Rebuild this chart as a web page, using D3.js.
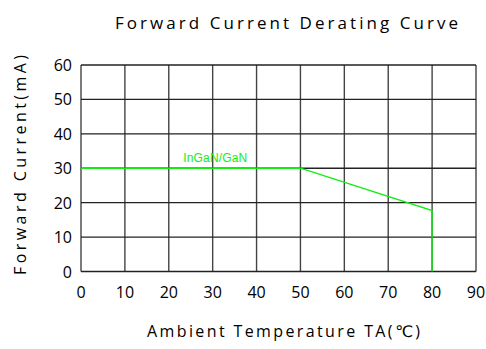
<!DOCTYPE html>
<meta charset="utf-8">
<style>
body { margin: 0; background: #fff; }
svg { display: block; }
.cad { font-family: "Open Sans", "DejaVu Sans", sans-serif; font-weight: 400; fill: #000; }
</style>
<body>
<script src="https://d3js.org/d3.v7.min.js"></script>
<script>

// chart data
var xTicks = [0, 10, 20, 30, 40, 50, 60, 70, 80, 90];
var yTicks = [0, 10, 20, 30, 40, 50, 60];
var tempC = [0, 50, 80, 80];
var currentMA = [30, 30, 17.7, 0];
var seriesName = "InGaN/GaN";

var width = 486, height = 349;
var plot = {left: 81, right: 476, top: 65, bottom: 271.5};

var svg = d3.select("body").append("svg")
  .attr("width", width)
  .attr("height", height);

var x = d3.scaleLinear().domain([0, 90]).range([plot.left, plot.right]);
var y = d3.scaleLinear().domain([0, 60]).range([plot.bottom, plot.top]);

// grid
svg.append("g").selectAll("line")
  .data(xTicks)
  .enter().append("line")
    .attr("x1", function(d) { return x(d); })
    .attr("x2", function(d) { return x(d); })
    .attr("y1", y(0))
    .attr("y2", y(60))
    .attr("stroke", "#444")
    .attr("stroke-width", 1.4);

svg.append("g").selectAll("line")
  .data(yTicks)
  .enter().append("line")
    .attr("x1", x(0))
    .attr("x2", x(90))
    .attr("y1", function(d) { return y(d); })
    .attr("y2", function(d) { return y(d); })
    .attr("stroke", "#222")
    .attr("stroke-width", 1.4);

// tick labels
svg.append("g").selectAll("text")
  .data(xTicks)
  .enter().append("text")
    .attr("class", "cad")
    .attr("x", function(d) { return x(d); })
    .attr("y", 298)
    .attr("text-anchor", "middle")
    .style("font-size", "16px")
    .text(function(d) { return d; });

svg.append("g").selectAll("text")
  .data(yTicks)
  .enter().append("text")
    .attr("class", "cad")
    .attr("x", 72)
    .attr("y", function(d) { return y(d) + 6; })
    .attr("text-anchor", "end")
    .style("font-size", "16px")
    .text(function(d) { return d; });

// derating curve
var line = d3.line()
  .x(function(d, i) { return x(tempC[i]); })
  .y(function(d) { return y(d); });

svg.append("path")
  .datum(currentMA)
  .attr("d", line)
  .attr("fill", "none")
  .attr("stroke", "#11ee11")
  .attr("stroke-width", 1.3);

svg.append("text")
  .attr("x", x(23.3))
  .attr("y", y(30) - 6)
  .attr("textLength", 64)
  .style("font-family", "Liberation Sans, Arial, sans-serif")
  .style("font-size", "12px")
  .style("fill", "#11ee11")
  .text(seriesName);

// titles
svg.append("text")
  .attr("class", "cad")
  .attr("x", 115)
  .attr("y", 29)
  .attr("textLength", 343)
  .attr("lengthAdjust", "spacing")
  .style("font-size", "17px")
  .text("Forward Current Derating Curve");

svg.append("text")
  .attr("class", "cad")
  .attr("x", 147)
  .attr("y", 337)
  .attr("textLength", 273)
  .attr("lengthAdjust", "spacing")
  .style("font-size", "16px")
  .text("Ambient Temperature TA(\u2103)");

svg.append("text")
  .attr("class", "cad")
  .attr("transform", "translate(26,275) rotate(-90)")
  .attr("textLength", 220)
  .attr("lengthAdjust", "spacing")
  .style("font-size", "16px")
  .text("Forward Current(mA)");

</script>
</body>
